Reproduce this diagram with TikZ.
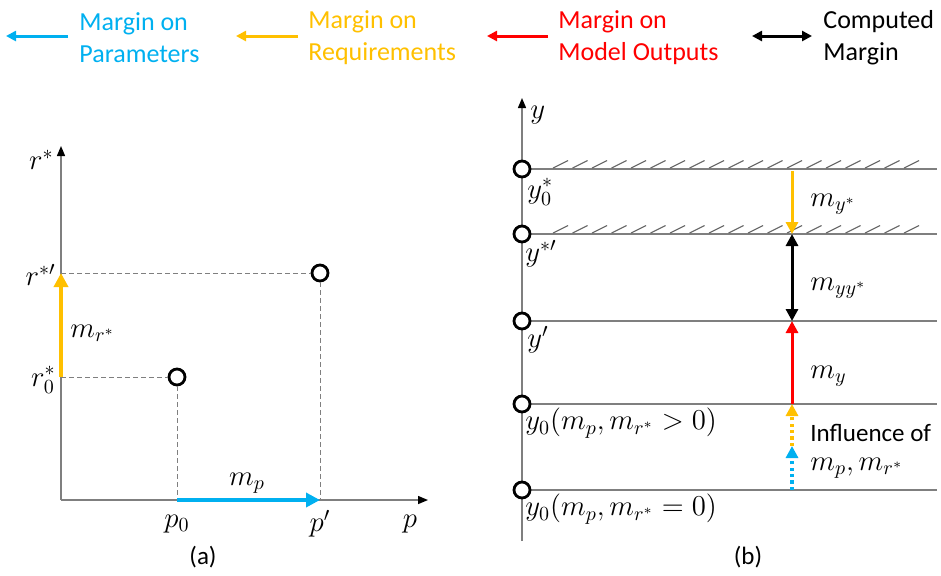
\documentclass[tikz,border=0pt]{standalone}
\usepackage{fontspec}
\setmainfont{Carlito}
\usetikzlibrary{arrows.meta}
\definecolor{cblue}{HTML}{00B0F0}
\definecolor{cyel}{HTML}{FFC000}
\definecolor{cred}{HTML}{FF0000}
\definecolor{cgrey}{HTML}{7F7F7F}
\begin{document}
\begin{tikzpicture}[x=0.5pt,y=-0.5pt,
  legtext/.style={anchor=west,align=left,font=\fontsize{13}{16}\selectfont,inner sep=0pt},
  legarrow/.style={line width=1.5pt,-{Triangle[length=5pt,width=5pt]}},
  axisarrow/.style={cgrey,line width=0.7pt,-{Triangle[length=5pt,width=4pt,black]}},
  dashline/.style={cgrey,line width=0.5pt,dash pattern=on 2.5pt off 1.5pt},
  bigarrow/.style={line width=2pt,-{Triangle[length=7pt,width=7pt]}},
  midarrow/.style={line width=1.5pt,-{Triangle[length=6pt,width=6pt]}},
  dotarrow/.style={line width=1.6pt,dash pattern=on 1.6pt off 1.6pt,-{Triangle[length=6pt,width=6pt]}},
  pt/.style={circle,draw=black,line width=1.4pt,fill=white,minimum size=8pt,inner sep=0pt},
  mlab/.style={font=\fontsize{14}{16}\selectfont,inner sep=1pt},
  txt/.style={font=\fontsize{12.5}{15}\selectfont,inner sep=0pt}
]
\useasboundingbox (0,0) rectangle (941,575);

% ---------- legend ----------
\coordinate (lb1) at (68,36); \coordinate (lb2) at (6,36);
\draw[legarrow,cblue] (lb1) -- (lb2);
\node[legtext,text=cblue] (tb) at (79,38) {Margin on\\Parameters};
\coordinate (ly1) at (298,36); \coordinate (ly2) at (236,36);
\draw[legarrow,cyel] (ly1) -- (ly2);
\node[legtext,text=cyel] (ty) at (308,38) {Margin on\\Requirements};
\coordinate (lr1) at (548,36); \coordinate (lr2) at (487,36);
\draw[legarrow,cred] (lr1) -- (lr2);
\node[legtext,text=cred] (tr) at (558,38) {Margin on\\Model Outputs};
\coordinate (lk1) at (752,36); \coordinate (lk2) at (812,36);
\draw[line width=1.5pt,{Triangle[length=5pt,width=5pt]}-{Triangle[length=5pt,width=5pt]}] (lk1) -- (lk2);
\node[legtext,text=black] (tk) at (823,38) {Computed\\Margin};

% ---------- panel (a) ----------
\coordinate (O) at (61,500);
\coordinate (ytop) at (61,146);
\coordinate (xend) at (428,500);
\draw[axisarrow] (O) -- (ytop);
\draw[axisarrow] (O) -- (xend);

\coordinate (r0) at (61,377);
\coordinate (r1) at (61,273);
\coordinate (p0) at (177,500);
\coordinate (p1) at (320,500);
\node[pt] (c0) at (177,377) {};
\node[pt] (c1) at (320,273) {};
\draw[dashline] (r0) -- (c0.west);
\draw[dashline] (c0.south) -- (p0);
\draw[dashline] (r1) -- (c1.west);
\draw[dashline] (c1.south) -- (p1);

\draw[bigarrow,cyel] (r0) -- (r1);
\draw[bigarrow,cblue] (p0) -- (p1);

\node[mlab,anchor=east] (lrs) at (56,160) {$r^*$};
\node[mlab,anchor=east] (lr1) at (58,275) {$r^{*\prime}$};
\node[mlab,anchor=east] (lr0) at (58,380) {$r^*_0$};
\node[mlab,anchor=west] (lmr) at (68,333) {$m_{r^*}$};
\node[mlab] (lmp) at (247,483) {$m_p$};
\node[mlab] (lp0) at (177,524) {$p_0$};
\node[mlab] (lp1) at (320,524) {$p'$};
\node[mlab] (lp) at (410,524) {$p$};
\node[txt] (la) at (203,557) {(a)};

% ---------- panel (b) ----------
\coordinate (yb) at (522,541);
\coordinate (yt) at (522,98);
\draw[axisarrow] (yb) -- (yt);
\node[mlab,anchor=west] (ly) at (528,115) {$y$};

\foreach \n/\yy in {A/169,B/234,C/321,D/404,E/490}{
  \coordinate (\n l) at (522,\yy);
  \coordinate (\n r) at (937,\yy);
  \draw[cgrey,line width=0.8pt] (\n l) -- (\n r);
}
\foreach \yy in {169,234}{
  \foreach \i in {0,...,18}{
    \draw[black!60,line width=0.55pt] ({553+19.5*\i},\yy-1) -- ++(15,-7.5);
  }
}
\foreach \n/\yy in {A/169,B/234,C/321,D/404,E/490}{
  \node[pt] (p\n) at (522,\yy) {};
}

\coordinate (aA) at (792,171);
\coordinate (aB) at (792,234);
\coordinate (aC) at (792,321);
\coordinate (aD) at (792,404);
\coordinate (aM) at (792,446);
\coordinate (aE) at (792,490);
\draw[midarrow,cyel] (aA) -- (aB);
\draw[line width=1.5pt,{Triangle[length=6pt,width=6pt]}-{Triangle[length=6pt,width=6pt]}] (aB) -- (aC);
\draw[midarrow,cred] (aD) -- (aC);
\draw[dotarrow,cyel] (aM) -- (aD);
\draw[dotarrow,cblue] (aE) -- (aM);

\node[mlab,anchor=west] (lmy1) at (808,204) {$m_{y^*}$};
\node[mlab,anchor=west] (lmy2) at (808,288) {$m_{yy^*}$};
\node[mlab,anchor=west] (lmy3) at (808,376) {$m_y$};
\node[txt,anchor=west] (linf) at (810,433) {Influence of};
\node[mlab,anchor=west] (linf2) at (808,468) {$m_p,m_{r^*}$};

\node[mlab,anchor=west] (ly0s) at (525,192) {$y^*_0$};
\node[mlab,anchor=west] (lys) at (523,254) {$y^{*\prime}$};
\node[mlab,anchor=west] (lyp) at (525,340) {$y'$};
\node[mlab,anchor=west] (ly0a) at (523,423) {$y_0(m_p,m_{r^*}>0)$};
\node[mlab,anchor=west] (ly0b) at (523,509) {$y_0(m_p,m_{r^*}=0)$};
\node[txt] (lb) at (748,557) {(b)};
\end{tikzpicture}
\end{document}
